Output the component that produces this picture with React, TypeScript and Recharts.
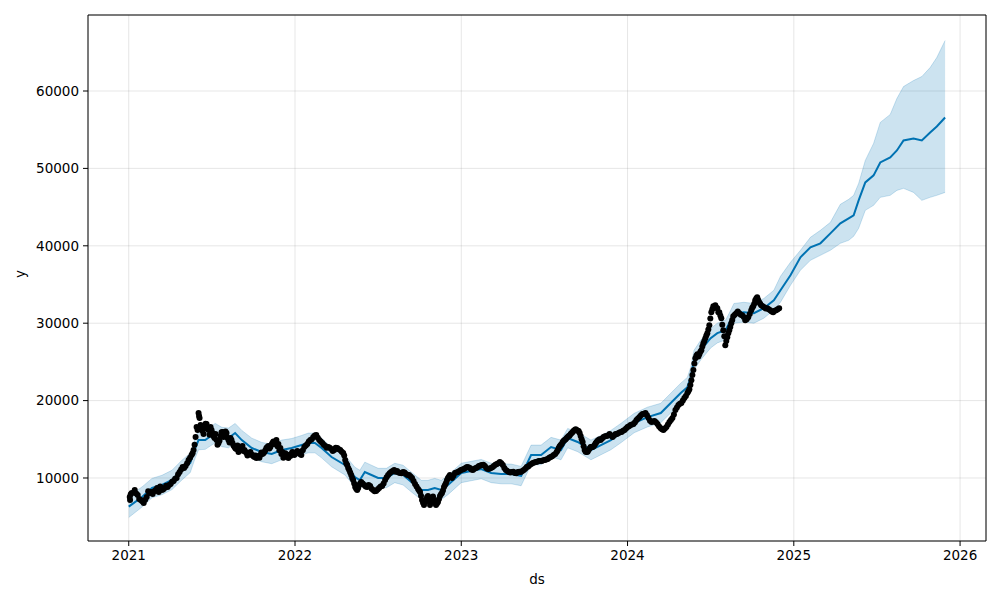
import {
  ComposedChart,
  Area,
  Line,
  Scatter,
  XAxis,
  YAxis,
  CartesianGrid,
  ReferenceLine,
  Label,
} from "recharts";

// dates are decimal years
const histDates = [
  2021.0, 2021.08, 2021.14, 2021.2, 2021.26, 2021.32, 2021.37, 2021.4, 2021.42, 2021.46,
  2021.52, 2021.56, 2021.6, 2021.64, 2021.68, 2021.74, 2021.8, 2021.86, 2021.92, 2021.98,
  2022.04, 2022.08, 2022.12, 2022.16, 2022.22, 2022.3, 2022.36, 2022.39, 2022.42, 2022.46,
  2022.5, 2022.55, 2022.6, 2022.65, 2022.7, 2022.76, 2022.8, 2022.84, 2022.88, 2022.92,
  2023.0, 2023.06, 2023.12, 2023.18, 2023.24, 2023.3, 2023.36, 2023.42, 2023.48, 2023.54,
  2023.6, 2023.64, 2023.7, 2023.78, 2023.84, 2023.9, 2023.96,
  2024.04, 2024.12, 2024.2, 2024.26, 2024.32, 2024.36, 2024.38, 2024.4, 2024.44, 2024.5,
  2024.54, 2024.59, 2024.62, 2024.64, 2024.7, 2024.76, 2024.82, 2024.88,
];
const histYhat = [
  6300, 7550, 8710, 9100, 9740, 11030, 11940, 13870, 14900, 14900,
  15810, 15290, 15160, 15810, 14900, 13870, 13360, 13100, 13610, 13870,
  14260, 14520, 14520, 13870, 12710, 11680, 10130, 9740, 10770, 10390,
  10000, 10000, 10650, 10390, 9480, 8450, 8450, 8710, 8450, 9100,
  10650, 10900, 11160, 10650, 10520, 10520, 10260, 12970, 12970, 14000,
  13610, 15160, 14650, 13610, 14260, 14900, 15810,
  17100, 17870, 18390, 19680, 20970, 21740, 23030, 25230, 26520, 28060,
  28710, 29100, 30390, 31290, 31420, 31290, 31940, 32970,
];
const histLower = [
  4900, 6250, 7450, 7850, 8500, 9750, 10700, 12600, 13650, 13700,
  14550, 14050, 13900, 14550, 13650, 12600, 12100, 11850, 12350, 12600,
  13000, 13250, 13250, 12600, 11450, 10400, 8850, 8500, 9500, 9100,
  8750, 8750, 9400, 9100, 8200, 7200, 7200, 7450, 7200, 7850,
  9400, 9650, 9900, 9400, 9250, 9250, 9000, 11700, 11700, 12750,
  12350, 13900, 13400, 12350, 13000, 13650, 14550,
  15850, 16600, 17150, 18400, 19700, 20500, 21750, 23950, 25250, 26800,
  27450, 27850, 29100, 30000, 30150, 30000, 30650, 31700,
];
const histUpper = [
  7650, 8850, 9950, 10350, 11000, 12300, 13200, 15150, 16150, 16200,
  17050, 16550, 16450, 17050, 16150, 15150, 14600, 14350, 14900, 15100,
  15500, 15800, 15800, 15150, 13950, 12950, 11400, 11000, 12050, 11650,
  11250, 11250, 11900, 11650, 10750, 9700, 9700, 9950, 9700, 10350,
  11900, 12150, 12400, 11900, 11800, 11800, 11500, 14250, 14250, 15250,
  14900, 16400, 15900, 14900, 15500, 16150, 17050,
  18350, 19150, 19650, 20950, 22250, 23000, 24300, 26500, 27800, 29300,
  30000, 30400, 31650, 32550, 32700, 32550, 33200, 34250,
];

const futDates = [
  2024.92, 2024.98, 2025.04, 2025.1, 2025.16, 2025.22, 2025.28, 2025.33, 2025.36, 2025.39,
  2025.43, 2025.48, 2025.52, 2025.58, 2025.62, 2025.66, 2025.72, 2025.77, 2025.82, 2025.86, 2025.91,
];
const futYhat = [
  34260, 36190, 38520, 39810, 40320, 41610, 42900, 43550, 43940, 45870,
  48190, 49100, 50770, 51420, 52320, 53610, 53870, 53610, 54650, 55420, 56580,
];
const futLower = [
  32710, 34900, 36840, 38130, 38770, 39420, 40320, 40710, 41230, 42260,
  44580, 45230, 46260, 46520, 47160, 47420, 46900, 45870, 46260, 46520, 46900,
];
const futUpper = [
  36060, 37870, 39420, 41100, 42000, 43030, 45360, 46000, 46520, 48060,
  51030, 53230, 55940, 56970, 59030, 60580, 61350, 61870, 63030, 64320, 66520,
];

// observed points [date, y]
const actual2021: [number, number][] = [
  [2021.006, 7550], [2021.008, 7160], [2021.018, 8060], [2021.036, 8450], [2021.054, 7810],
  [2021.072, 7160], [2021.09, 6770], [2021.108, 7550], [2021.126, 8060], [2021.144, 7930],
  [2021.162, 8450], [2021.18, 8190], [2021.198, 8450], [2021.216, 8710], [2021.234, 8840],
  [2021.252, 9230], [2021.27, 9610], [2021.288, 10000], [2021.306, 10770], [2021.324, 11420],
  [2021.342, 11550], [2021.36, 12320], [2021.378, 12970], [2021.39, 13610], [2021.402, 15290],
  [2021.414, 16190], [2021.42, 18390], [2021.423, 18000], [2021.426, 17740], [2021.432, 16840],
  [2021.444, 16060], [2021.456, 16450], [2021.468, 16970], [2021.48, 16190], [2021.492, 16580],
  [2021.504, 15810], [2021.516, 15160], [2021.528, 14900], [2021.54, 14520], [2021.552, 15420],
  [2021.564, 15940], [2021.576, 15550], [2021.588, 15810], [2021.6, 14900], [2021.612, 15160],
  [2021.624, 14520], [2021.636, 14000], [2021.648, 13740], [2021.66, 13360], [2021.672, 14000],
  [2021.684, 14130], [2021.696, 13610], [2021.708, 13230], [2021.72, 13100], [2021.732, 13360],
  [2021.744, 12970], [2021.756, 12710], [2021.768, 12580], [2021.78, 12840], [2021.792, 12970],
  [2021.804, 13100], [2021.816, 13360], [2021.828, 13870], [2021.84, 14130], [2021.852, 14000],
  [2021.864, 14520], [2021.876, 14390], [2021.888, 14900], [2021.9, 14390], [2021.912, 13870],
  [2021.924, 13360], [2021.936, 12840], [2021.948, 12970], [2021.96, 12580], [2021.972, 12840],
  [2021.984, 13360], [2021.996, 12970],
  [2021.012, 7900], [2021.045, 8000], [2021.063, 7300], [2021.081, 7000], [2021.099, 7200],
  [2021.117, 8300], [2021.135, 8200], [2021.153, 8300], [2021.171, 8700], [2021.189, 8900],
  [2021.207, 8500], [2021.225, 9000], [2021.243, 9100], [2021.261, 9500], [2021.279, 9900],
  [2021.297, 10500], [2021.315, 11100], [2021.333, 11300], [2021.351, 11900], [2021.369, 12600],
  [2021.384, 13200], [2021.396, 14300], [2021.408, 16600], [2021.438, 16300], [2021.45, 15700],
  [2021.462, 17000], [2021.474, 16400], [2021.486, 15600], [2021.498, 16200], [2021.51, 15400],
  [2021.522, 15700], [2021.534, 14300], [2021.546, 14800], [2021.558, 15900], [2021.57, 15300],
  [2021.582, 16000], [2021.594, 15200], [2021.606, 14600], [2021.618, 14900], [2021.63, 14200],
  [2021.642, 13800], [2021.654, 14200], [2021.666, 13700], [2021.678, 13800], [2021.69, 13500],
  [2021.702, 13400], [2021.714, 12900], [2021.726, 13200], [2021.738, 13000], [2021.75, 12800],
  [2021.762, 12900], [2021.774, 12700], [2021.786, 12600], [2021.798, 13300], [2021.81, 13200],
  [2021.822, 13600], [2021.834, 14000], [2021.846, 13800], [2021.858, 14300], [2021.87, 14700],
  [2021.882, 14500], [2021.894, 14100], [2021.906, 13600], [2021.918, 13100], [2021.93, 12600],
  [2021.942, 13200], [2021.954, 12700], [2021.966, 13000], [2021.978, 13100], [2021.99, 13300],
];
const actual2022: [number, number][] = [
  [2022.008, 13230], [2022.02, 13360], [2022.038, 12970], [2022.056, 14000], [2022.074, 14390],
  [2022.092, 14900], [2022.11, 15290], [2022.128, 15550], [2022.146, 14900], [2022.164, 14520],
  [2022.182, 14130], [2022.2, 14000], [2022.218, 13740], [2022.236, 13610], [2022.254, 13870],
  [2022.272, 13610], [2022.29, 13230], [2022.302, 12320], [2022.314, 11680], [2022.326, 11030],
  [2022.338, 10390], [2022.35, 9740], [2022.362, 8840], [2022.374, 8450], [2022.386, 9100],
  [2022.398, 9480], [2022.416, 9100], [2022.434, 8840], [2022.452, 8970], [2022.47, 8450],
  [2022.488, 8320], [2022.506, 8710], [2022.524, 8970], [2022.542, 9740], [2022.56, 10390],
  [2022.578, 10770], [2022.596, 11030], [2022.614, 10900], [2022.632, 10650], [2022.65, 10770],
  [2022.668, 10520], [2022.686, 10390], [2022.704, 10000], [2022.722, 9230], [2022.74, 8580],
  [2022.752, 8190], [2022.764, 7160], [2022.776, 6520], [2022.788, 7160], [2022.8, 7680],
  [2022.812, 6520], [2022.824, 7420], [2022.836, 7160], [2022.848, 6520], [2022.86, 6900],
  [2022.872, 7680], [2022.884, 8060], [2022.896, 8840], [2022.908, 9350], [2022.92, 10000],
  [2022.932, 10390], [2022.944, 10000], [2022.962, 10650], [2022.98, 10770], [2022.998, 11030],
  [2022.014, 13500], [2022.029, 13100], [2022.047, 13600], [2022.065, 14200], [2022.083, 14700],
  [2022.101, 15000], [2022.119, 15500], [2022.137, 15200], [2022.155, 14700], [2022.173, 14300],
  [2022.191, 13900], [2022.209, 13900], [2022.227, 13500], [2022.245, 13900], [2022.263, 13700],
  [2022.281, 13400], [2022.296, 12900], [2022.308, 11900], [2022.32, 11300], [2022.332, 10700],
  [2022.344, 10000], [2022.356, 9300], [2022.368, 8600], [2022.38, 8700], [2022.392, 9300],
  [2022.407, 9300], [2022.425, 8900], [2022.443, 9100], [2022.461, 8600], [2022.479, 8300],
  [2022.497, 8500], [2022.515, 8900], [2022.533, 9300], [2022.551, 10100], [2022.569, 10600],
  [2022.587, 10900], [2022.605, 10800], [2022.623, 10700], [2022.641, 10600], [2022.659, 10700],
  [2022.677, 10400], [2022.695, 10200], [2022.713, 9600], [2022.731, 8900], [2022.746, 8400],
  [2022.758, 7700], [2022.77, 6800], [2022.782, 6900], [2022.794, 7500], [2022.806, 7000],
  [2022.818, 6900], [2022.83, 7600], [2022.842, 6800], [2022.854, 6700], [2022.866, 7300],
  [2022.878, 7900], [2022.89, 8400], [2022.902, 9100], [2022.914, 9700], [2022.926, 10200],
  [2022.938, 10200], [2022.953, 10300], [2022.971, 10700], [2022.989, 10900],
];
const actual2023: [number, number][] = [
  [2023.016, 11160], [2023.034, 11420], [2023.052, 11290], [2023.07, 11030], [2023.088, 11290],
  [2023.106, 11550], [2023.124, 11680], [2023.142, 11550], [2023.16, 11160], [2023.178, 11290],
  [2023.196, 11550], [2023.214, 11810], [2023.232, 12060], [2023.25, 11680], [2023.268, 11030],
  [2023.286, 10770], [2023.304, 10770], [2023.322, 10650], [2023.34, 10770], [2023.358, 10770],
  [2023.376, 11030], [2023.394, 11420], [2023.412, 11680], [2023.43, 11940], [2023.448, 12060],
  [2023.466, 12190], [2023.484, 12190], [2023.502, 12320], [2023.52, 12450], [2023.538, 12710],
  [2023.556, 12970], [2023.574, 13360], [2023.586, 13870], [2023.598, 14260], [2023.61, 14650],
  [2023.622, 14900], [2023.634, 15160], [2023.646, 15420], [2023.658, 15680], [2023.67, 15940],
  [2023.682, 16190], [2023.694, 16190], [2023.706, 16060], [2023.718, 15420], [2023.73, 14650],
  [2023.742, 13610], [2023.754, 13360], [2023.766, 13610], [2023.778, 14000], [2023.79, 14000],
  [2023.802, 14260], [2023.814, 14650], [2023.826, 14900], [2023.838, 14900], [2023.856, 15290],
  [2023.874, 15420], [2023.892, 15680], [2023.91, 15290], [2023.928, 15680], [2023.946, 15810],
  [2023.964, 15940], [2023.982, 16190],
  [2023.007, 11100], [2023.025, 11300], [2023.043, 11400], [2023.061, 11100], [2023.079, 11200],
  [2023.097, 11400], [2023.115, 11600], [2023.133, 11700], [2023.151, 11300], [2023.169, 11200],
  [2023.187, 11400], [2023.205, 11700], [2023.223, 11900], [2023.241, 11900], [2023.259, 11300],
  [2023.277, 10900], [2023.295, 10700], [2023.313, 10800], [2023.331, 10600], [2023.349, 10800],
  [2023.367, 10900], [2023.385, 11200], [2023.403, 11500], [2023.421, 11800], [2023.439, 12000],
  [2023.457, 12100], [2023.475, 12200], [2023.493, 12300], [2023.511, 12400], [2023.529, 12600],
  [2023.547, 12800], [2023.565, 13100], [2023.58, 13600], [2023.592, 14100], [2023.604, 14400],
  [2023.616, 14800], [2023.628, 15000], [2023.64, 15300], [2023.652, 15500], [2023.664, 15800],
  [2023.676, 16100], [2023.688, 16300], [2023.7, 16100], [2023.712, 15800], [2023.724, 15000],
  [2023.736, 14100], [2023.748, 13400], [2023.76, 13400], [2023.772, 13800], [2023.784, 14000],
  [2023.796, 14100], [2023.808, 14500], [2023.82, 14800], [2023.832, 15000], [2023.847, 15100],
  [2023.865, 15400], [2023.883, 15500], [2023.901, 15500], [2023.919, 15500], [2023.937, 15700],
  [2023.955, 15900], [2023.973, 16100], [2023.991, 16400],
];
const actual2024: [number, number][] = [
  [2024.0, 16580], [2024.018, 16840], [2024.036, 16970], [2024.054, 17480], [2024.072, 17870],
  [2024.09, 18260], [2024.108, 18390], [2024.126, 17740], [2024.144, 17230], [2024.162, 17350],
  [2024.18, 16970], [2024.198, 16450], [2024.216, 16190], [2024.234, 16580], [2024.252, 17230],
  [2024.27, 17740], [2024.288, 18770], [2024.306, 19420], [2024.324, 19680], [2024.342, 20320],
  [2024.36, 20970], [2024.372, 21480], [2024.384, 22640], [2024.396, 23940], [2024.408, 25480],
  [2024.42, 26000], [2024.432, 26000], [2024.444, 26510], [2024.456, 27420], [2024.468, 28060],
  [2024.48, 28710], [2024.492, 29740], [2024.504, 31420], [2024.516, 32190], [2024.528, 32320],
  [2024.54, 31940], [2024.552, 31420], [2024.564, 30650], [2024.576, 29100], [2024.588, 27160],
  [2024.6, 28190], [2024.612, 29100], [2024.624, 30000], [2024.636, 30900], [2024.654, 31290],
  [2024.672, 31290], [2024.69, 31030], [2024.708, 30390], [2024.726, 30770], [2024.744, 31680],
  [2024.756, 32190], [2024.768, 32970], [2024.78, 33350], [2024.792, 32710], [2024.804, 32320],
  [2024.822, 32060], [2024.84, 31940], [2024.858, 31680], [2024.876, 31420], [2024.894, 31680],
  [2024.912, 31940],
  [2024.009, 16700], [2024.027, 16900], [2024.045, 17200], [2024.063, 17700], [2024.081, 18100],
  [2024.099, 18300], [2024.117, 18100], [2024.135, 17400], [2024.153, 17300], [2024.171, 17200],
  [2024.189, 16700], [2024.207, 16300], [2024.225, 16400], [2024.243, 16900], [2024.261, 17500],
  [2024.279, 18200], [2024.297, 19100], [2024.315, 19600], [2024.333, 20000], [2024.351, 20600],
  [2024.366, 21200], [2024.378, 22000], [2024.39, 23300], [2024.402, 24800], [2024.414, 25800],
  [2024.426, 25700], [2024.438, 26300], [2024.45, 27000], [2024.462, 27700], [2024.474, 28400],
  [2024.486, 29200], [2024.498, 30600], [2024.51, 31800], [2024.522, 32100], [2024.534, 32000],
  [2024.546, 31400], [2024.558, 31000], [2024.57, 29800], [2024.582, 28300], [2024.594, 27700],
  [2024.606, 28700], [2024.618, 29500], [2024.63, 30400], [2024.645, 31100], [2024.663, 31500],
  [2024.681, 31100], [2024.699, 30800], [2024.717, 30500], [2024.735, 31200], [2024.75, 32000],
  [2024.762, 32500], [2024.774, 33200], [2024.786, 33000], [2024.798, 32500], [2024.813, 32200],
  [2024.831, 31900], [2024.849, 31800], [2024.867, 31500], [2024.885, 31600], [2024.903, 31800],
];

const xTicks = [2021, 2022, 2023, 2024, 2025, 2026];
const yTicks = [10000, 20000, 30000, 40000, 50000, 60000];

const X_MIN = 2020.755;
const X_MAX = 2026.156;
const Y_MIN = 1860;
const Y_MAX = 69820;

const font = "DejaVu Sans, sans-serif";
const blue = "#0072B2";

const fcstRows = [
  ...histDates.map((t, i) => ({ t, yhat: histYhat[i], band: [histLower[i], histUpper[i]] })),
  ...futDates.map((t, i) => ({ t, yhat: futYhat[i], band: [futLower[i], futUpper[i]] })),
];

const actualRows = [...actual2021, ...actual2022, ...actual2023, ...actual2024].map(([t, y]) => ({ t, y }));

const Dot = (props: any) => {
  const { cx, cy } = props;
  if (cx == null || cy == null) return null;
  return <circle cx={cx} cy={cy} r={3} fill="#000" />;
};

const App = () => {
  return (
    <div style={{ position: "absolute", left: 0, top: 0, width: 1000, height: 600, background: "#fff" }}>
      <ComposedChart
        width={1000}
        height={600}
        data={fcstRows}
        margin={{ top: 15, right: 14, bottom: 0, left: 0 }}
      >
        <CartesianGrid stroke="#808080" strokeOpacity={0.2} strokeWidth={1} />
        <XAxis
          dataKey="t"
          type="number"
          domain={[X_MIN, X_MAX]}
          allowDataOverflow
          ticks={xTicks}
          tickFormatter={(v) => String(v)}
          height={59}
          tickSize={5}
          tickMargin={4}
          stroke="#000"
          tick={{ fill: "#000", fontSize: 13.5, fontFamily: font }}
        >
          <Label value="ds" position="insideBottom" offset={16} fill="#000" fontSize={13.5} fontFamily={font} />
        </XAxis>
        <YAxis
          type="number"
          domain={[Y_MIN, Y_MAX]}
          allowDataOverflow
          ticks={yTicks}
          width={88}
          tickSize={5}
          tickMargin={4}
          stroke="#000"
          tick={{ fill: "#000", fontSize: 13.5, fontFamily: font }}
        >
          <Label value="y" angle={-90} position="insideLeft" offset={20} fill="#000" fontSize={13.5} fontFamily={font} />
        </YAxis>
        <Area
          dataKey="band"
          type="linear"
          fill={blue}
          fillOpacity={0.2}
          stroke={blue}
          strokeOpacity={0.2}
          strokeWidth={1}
          isAnimationActive={false}
        />
        <Scatter data={actualRows} dataKey="y" shape={Dot} isAnimationActive={false} />
        <Line
          dataKey="yhat"
          type="linear"
          stroke={blue}
          strokeWidth={2}
          dot={false}
          isAnimationActive={false}
        />
        <ReferenceLine y={Y_MAX} stroke="#000" strokeWidth={1} />
        <ReferenceLine x={X_MAX} stroke="#000" strokeWidth={1} />
      </ComposedChart>
    </div>
  );
};

export default App;
